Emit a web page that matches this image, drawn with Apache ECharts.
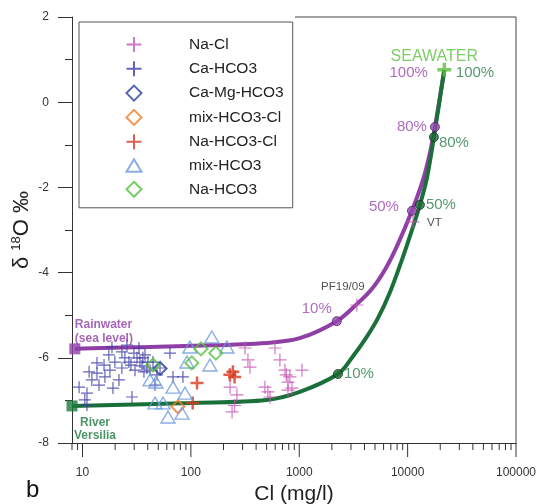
<!DOCTYPE html>
<html><head><meta charset="utf-8">
<script src="https://cdn.jsdelivr.net/npm/echarts@6/dist/echarts.min.js"></script>
<style>html,body{margin:0;padding:0;background:#fff}#c{width:536px;height:504px}</style>
</head><body><div id="c"></div><script>
const FONT = '"Liberation Sans", Arial, sans-serif';
const X_MIN = 8, X_MAX = 100000, Y_MIN = -8, Y_MAX = 2, Y_STEP = 2;
const xMajorTicks = [10, 100, 1000, 10000, 100000];
const xMinorTicks = [8, 9, 20, 30, 40, 50, 60, 70, 80, 90, 200, 300, 400, 500, 600, 700, 800, 900,
  2000, 3000, 4000, 5000, 6000, 7000, 8000, 9000, 20000, 30000, 40000, 50000, 60000, 70000, 80000, 90000];

const groupNames = ['Na-Cl', 'Ca-HCO3', 'Ca-Mg-HCO3', 'mix-HCO3-Cl', 'Na-HCO3-Cl', 'mix-HCO3', 'Na-HCO3'];

const naCl = [[230,-6.69],[266,-6.87],[240,-7.27],[253,-7.12],[316,-5.77],[336,-6.05],[351,-6.22],[482,-6.69],
  [514,-6.80],[537,-6.92],[597,-5.77],[663,-6.05],[738,-6.29],[760,-6.40],[820,-6.45],[787,-6.57],[857,-6.71],
  [787,-6.76],[1060,-6.29]];
const naClNamed = [['PF19/09', 3400, -4.76], ['VT', 11200, -2.81]];
const caHCO3 = [[9.3,-6.69],[10.5,-6.99],[11.0,-6.83],[11.0,-7.11],[11.5,-6.33],[12.2,-6.52],[13.6,-6.36],[13.6,-6.12],
  [14.2,-6.64],[15.8,-6.17],[16.1,-6.45],[17.5,-5.93],[17.9,-6.29],[18.7,-5.75],[19.1,-6.71],[19.9,-6.10],[21.7,-6.52],
  [23.1,-5.86],[23.1,-6.24],[24.6,-6.00],[25.7,-5.70],[26.8,-6.10],[28.0,-6.17],[28.6,-6.92],[29.8,-5.89],[30.5,-6.29],
  [31.8,-6.00],[33.2,-5.77],[33.9,-6.10],[35.4,-6.19],[36.1,-6.00],[36.9,-6.33],[37.7,-5.93],[39.3,-6.24],[40.2,-6.10],
  [42.0,-6.29],[44.7,-6.10],[46.6,-6.64],[48.7,-6.40],[51.9,-6.24],[64.1,-5.89],[68.4,-6.45],[84.5,-6.45]];
const caMgHCO3 = [[52,-6.25]];
const mixHCO3Cl = [[76,-7.15]];
const naHCO3Cl = [[114,-6.59],[104,-7.06],[229,-6.40],[244,-6.33],[253,-6.45]];
const mixHCO3 = [[42,-6.52],[47.6,-6.57],[46.7,-7.06],[55.3,-7.06],[68.4,-6.69],[88.2,-6.83],[61.5,-7.39],
  [82.8,-7.30],[92,-6.10],[98,-5.75],[156,-5.51],[215,-5.75],[150,-6.17]];
const naHCO3 = [[44.7,-6.17],[102,-6.12],[124,-5.79],[170,-5.89]];

const rainCurve = [[8.5,-5.79],[30,-5.75],[100,-5.72],[500,-5.65],[1010,-5.54],[2220,-5.14],[3400,-4.74],[4690,-4.38],
  [6310,-3.89],[8130,-3.33],[10960,-2.55],[13840,-1.83],[16060,-1.19],[17870,-0.58],[21800,0.76]];
const riverCurve = [[8,-7.13],[100,-7.06],[500,-6.99],[1010,-6.80],[2275,-6.38],[3060,-6.00],[4120,-5.54],[5320,-5.07],
  [6870,-4.46],[8860,-3.70],[10960,-3.00],[12980,-2.41],[15060,-1.78],[17470,-0.82],[21800,0.76]];
const rainMix = [[2220,-5.14],[10960,-2.55],[17870,-0.58],[21800,0.76]];
const riverMix = [[2275,-6.38],[12980,-2.41],[17470,-0.82],[21800,0.76]];
const mixLabels = ['10%', '50%', '80%', '100%'];
const seawater = [[21800,0.76]];
const rainwater = [[8.5,-5.79]];
const river = [[8,-7.13]];

const PURPLE = '#8f3fa6', PURPLE_T = '#9a46b2', GREEN = '#1a7038', GREEN_T = '#2a7d4c', SEA = '#5cc040';
const CROSS = 'path://M0,6H12M6,0V12';
const DIAMOND = 'path://M6,0L12,6L6,12L0,6Z';
const TRIANGLE = 'path://M6,0L12.5,11L-0.5,11Z';
const TRANSP = 'rgba(0,0,0,0)';

function markSeries(name, data, symbol, color, size, width) {
  return { name, type: 'scatter', data, symbol, symbolSize: size, z: 4, symbolKeepAspect: true,
    itemStyle: { color: TRANSP, borderColor: color, borderWidth: width } };
}

const rainLabelPos = [
  { position: 'left', distance: 0, offset: [0, -12] },
  { position: 'left', distance: 8, offset: [0, -4] },
  { position: 'left', distance: 3, offset: [0, 0] },
  { position: 'left', distance: 16, offset: [0, 3] }];
const riverLabelPos = [
  { position: 'right', distance: 1, offset: [0, 0] },
  { position: 'right', distance: 1, offset: [0, 0] },
  { position: 'right', distance: 0, offset: [0, 6] },
  { position: 'right', distance: 11, offset: [0, 3] }];

function mixSeries(data, pos, color, tcolor, stroke) {
  return { type: 'scatter', z: 6, symbol: 'circle', symbolSize: 9,
    itemStyle: { color, borderColor: stroke, borderWidth: 1 },
    data: data.map((p, i) => {
      const last = i === data.length - 1;
      return { value: p, symbolSize: last ? 1 : 9,
        itemStyle: last ? { color: TRANSP, borderWidth: 0 } : undefined,
        label: Object.assign({ show: true, formatter: mixLabels[i], color: tcolor, fontSize: 15, fontFamily: FONT }, pos[i]) };
    }) };
}

const tickSeries = (vals, len) => ({
  type: 'custom', silent: true, clip: false, z: 1,
  data: vals.map(v => [v, Y_MIN]),
  encode: { x: 0, y: 1 },
  renderItem: (params, api) => {
    const p = api.coord([api.value(0), api.value(1)]);
    return { type: 'line', shape: { x1: p[0], y1: p[1], x2: p[0], y2: p[1] + len },
      style: { stroke: '#333', lineWidth: 1 } };
  }
});

const chart = echarts.init(document.getElementById('c'), null, { renderer: 'canvas' });
chart.setOption({
  animation: false,
  backgroundColor: '#fff',
  textStyle: { fontFamily: FONT },
  grid: { left: 72, right: 20, top: 17, bottom: 61, containLabel: false, outerBoundsMode: 'none' },
  legend: {
    data: groupNames, orient: 'vertical', left: 79, top: 22, symbolKeepAspect: true,
    padding: [14, 9, 10, 46.5], itemWidth: 15, itemHeight: 15, itemGap: 7.3,
    backgroundColor: '#fff', borderColor: '#555', borderWidth: 1,
    textStyle: { fontSize: 15.5, color: '#222', fontFamily: FONT, lineHeight: 15, padding: [0, 0, 0, 42.5] },
    selectedMode: false
  },
  xAxis: {
    type: 'log', logBase: 10, min: X_MIN, max: X_MAX,
    name: 'Cl (mg/l)', nameLocation: 'middle', nameGap: 34,
    nameTextStyle: { fontSize: 21, color: '#222', fontFamily: FONT },
    axisLine: { onZero: false, lineStyle: { color: '#333', width: 1 } },
    axisTick: { show: false }, splitLine: { show: false }, minorTick: { show: false },
    axisLabel: { margin: 24, fontSize: 12, color: '#333', fontFamily: FONT,
      formatter: v => xMajorTicks.indexOf(Math.round(v)) >= 0 ? String(Math.round(v)) : '' }
  },
  yAxis: {
    type: 'value', min: Y_MIN, max: Y_MAX, interval: Y_STEP,
    name: '{a|δ }{s|18}{a|O ‰}', nameLocation: 'middle', nameGap: 39, nameRotate: 90, nameMoveOverlap: false,
    nameTextStyle: { color: '#222', fontFamily: FONT,
      rich: { a: { fontSize: 22, color: '#222', fontFamily: FONT },
              s: { fontSize: 13, color: '#222', fontFamily: FONT, padding: [0, 0, 10, 0] } } },
    axisLine: { show: true, onZero: false, lineStyle: { color: '#333', width: 1 } },
    axisTick: { show: true, length: 14, lineStyle: { color: '#333' } },
    minorTick: { show: true, splitNumber: 2, length: 7, lineStyle: { color: '#333' } },
    splitLine: { show: false },
    axisLabel: { margin: 23, fontSize: 12, color: '#333', fontFamily: FONT }
  },
  graphic: [
    { type: 'line', shape: { x1: 295, y1: 17, x2: 516, y2: 17 }, style: { stroke: '#444', lineWidth: 1 } },
    { type: 'line', shape: { x1: 516, y1: 17, x2: 516, y2: 443 }, style: { stroke: '#444', lineWidth: 1 } },
    { type: 'text', left: 26, top: 478, style: { text: 'b', fontSize: 24, fill: '#111', fontFamily: FONT } }
  ],
  series: [
    tickSeries(xMajorTicks, 14),
    tickSeries(xMinorTicks, 7),
    { type: 'line', data: rainCurve, smooth: 0.35, symbol: 'none', z: 2, silent: true,
      lineStyle: { color: PURPLE, width: 4 } },
    { type: 'line', data: riverCurve, smooth: 0.35, symbol: 'none', z: 2, silent: true,
      lineStyle: { color: GREEN, width: 4 } },
    markSeries(groupNames[0], naCl.concat(naClNamed.map(d => ({ value: [d[1], d[2]],
      label: { show: true, formatter: d[0], fontSize: 11.5, color: '#222', fontFamily: FONT,
        position: d[0] === 'VT' ? 'right' : 'top', distance: d[0] === 'VT' ? 7 : 5,
        offset: d[0] === 'VT' ? [0, 1] : [-14, 0] } }))), CROSS, '#c458b4', 13, 1.2),
    markSeries(groupNames[1], caHCO3, CROSS, '#3c3ca8', 12, 1.2),
    markSeries(groupNames[2], caMgHCO3, DIAMOND, '#2a3c9c', 13, 2),
    markSeries(groupNames[3], mixHCO3Cl, DIAMOND, '#f07a28', 13, 2),
    markSeries(groupNames[4], naHCO3Cl, CROSS, '#d63a22', 13, 2.5),
    markSeries(groupNames[5], mixHCO3, TRIANGLE, '#6c98dc', 14, 1.4),
    markSeries(groupNames[6], naHCO3, DIAMOND, '#55c040', 13, 2),
    mixSeries(rainMix, rainLabelPos, '#9448b0', PURPLE_T, '#5a2070'),
    mixSeries(riverMix, riverLabelPos, '#1c6a36', GREEN_T, '#0c3a1a'),
    { type: 'scatter', data: seawater, symbol: CROSS, symbolSize: 14, z: 7,
      itemStyle: { color: TRANSP, borderColor: SEA, borderWidth: 3.5 },
      label: { show: true, formatter: 'SEAWATER', position: 'inside', offset: [-10, -13],
        color: SEA, fontSize: 16, fontFamily: FONT } },
    { type: 'scatter', data: rainwater, symbol: 'rect', symbolSize: 11, z: 7,
      itemStyle: { color: '#9040a8' },
      label: { show: true, formatter: 'Rainwater\n(sea level)', position: 'top', align: 'left', distance: -2,
        color: '#9040a8', fontSize: 12, fontWeight: 'bold', lineHeight: 14, fontFamily: FONT } },
    { type: 'scatter', data: river, symbol: 'rect', symbolSize: 11, z: 7,
      itemStyle: { color: '#1b7a3e' },
      label: { show: true, formatter: 'River\nVersilia', position: 'bottom', distance: 5, offset: [23, 0],
        color: '#1b7a3e', fontSize: 12, fontWeight: 'bold', lineHeight: 13, fontFamily: FONT } }
  ]
});
</script></body></html>
